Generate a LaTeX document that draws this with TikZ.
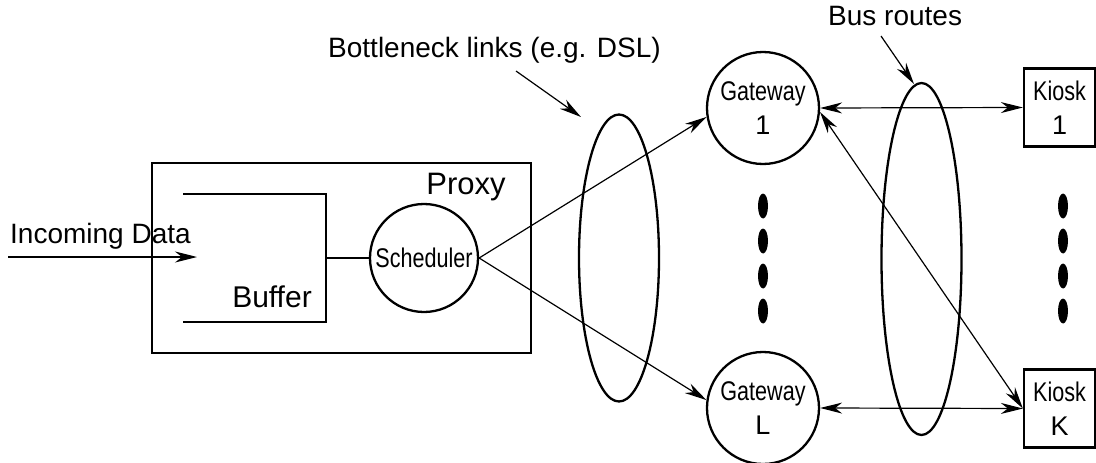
\documentclass[tikz,border=0pt]{standalone}
\usepackage{fontspec}
\setmainfont{Liberation Sans}
\usepackage{graphicx}
\usetikzlibrary{arrows.meta,shapes.geometric}
\newcommand{\narrowtxt}[1]{\scalebox{0.8}[1]{#1}}

\begin{document}
\begin{tikzpicture}[x=1pt,y=-1pt,
  >={Stealth[length=22pt,width=11pt,inset=7pt]},
  link/.style={line width=1.2pt},
  frame/.style={draw,line width=2.3pt},
  txt/.style={inner sep=0pt,font=\fontsize{28}{34}\selectfont},
  gateway/.style={frame,circle,minimum size=112pt,inner sep=0pt,align=center,font=\fontsize{27}{34}\selectfont},
  kiosk/.style={frame,rectangle,minimum width=71pt,minimum height=78pt,inner sep=0pt,align=center,font=\fontsize{27}{34}\selectfont},
  group/.style={frame,ellipse,inner sep=0pt}]
\useasboundingbox (0,0) rectangle (1096,463);
% Proxy
\node[frame,minimum width=379pt,minimum height=190pt,inner sep=0pt] (proxy) at (341.5,258) {};
\node[inner sep=0pt,font=\fontsize{31}{34}\selectfont,anchor=base] (proxylbl) at (466,194) {Proxy};
% Buffer
\draw[frame] (183,194) -- (326,194) -- (326,322) -- (183,322);
\node[inner sep=0pt,font=\fontsize{30}{34}\selectfont,anchor=base] (bufferlbl) at (272,307) {Buffer};
\coordinate (bufout) at (326,258);
\coordinate (bufin) at (197,257);
\coordinate (in) at (8,257);
% Scheduler
\node[frame,circle,minimum size=108pt,inner sep=0pt,font=\fontsize{27}{34}\selectfont] (sched) at (424,258) {\narrowtxt{Scheduler}};
\draw[frame] (bufout) -- (sched.west);
% Incoming
\node[txt,anchor=base west] (incoming) at (10,243) {Incoming Data};
\draw[link,->] (in) -- (bufin);
% Gateways
\node[gateway] (gw1) at (763,108) {\narrowtxt{Gateway}\\1};
\node[gateway] (gwL) at (763,408) {\narrowtxt{Gateway}\\L};
% Kiosks
\node[kiosk] (k1) at (1059.5,107.5) {\narrowtxt{Kiosk}\\1};
\node[kiosk] (kK) at (1059.5,408.5) {\narrowtxt{Kiosk}\\K};
% Dots
\foreach \y in {206,241,276,311} {
  \fill (763,\y) ellipse (5 and 12.5);
  \fill (1063,\y) ellipse (5 and 12.5);
}
% Links
\node[group,minimum width=80pt,minimum height=287pt] (dsl) at (619,258) {};
\node[group,minimum width=80pt,minimum height=352pt] (bus) at (921.5,259) {};
\draw[link,->] (sched.east) -- (gw1.189);
\draw[link,->] (sched.east) -- (gwL.172);
\draw[link,<->] (gw1.east) -- (k1.west);
\draw[link,<->] (gw1.-4) -- (kK.west);
\draw[link,<->] (gwL.east) -- (kK.west);
% Labels
\node[txt,anchor=base west] (bottleneck) at (328,57) {Bottleneck links (e.g. DSL)};
\coordinate (dslfrom) at (516,71);
\coordinate (dslto) at (581,117);
\draw[link,->] (dslfrom) -- (dslto);
\node[txt,anchor=base west] (busroutes) at (828,25) {Bus routes};
\coordinate (busfrom) at (881,36);
\coordinate (busto) at (914,84);
\draw[link,->] (busfrom) -- (busto);
\end{tikzpicture}
\end{document}
